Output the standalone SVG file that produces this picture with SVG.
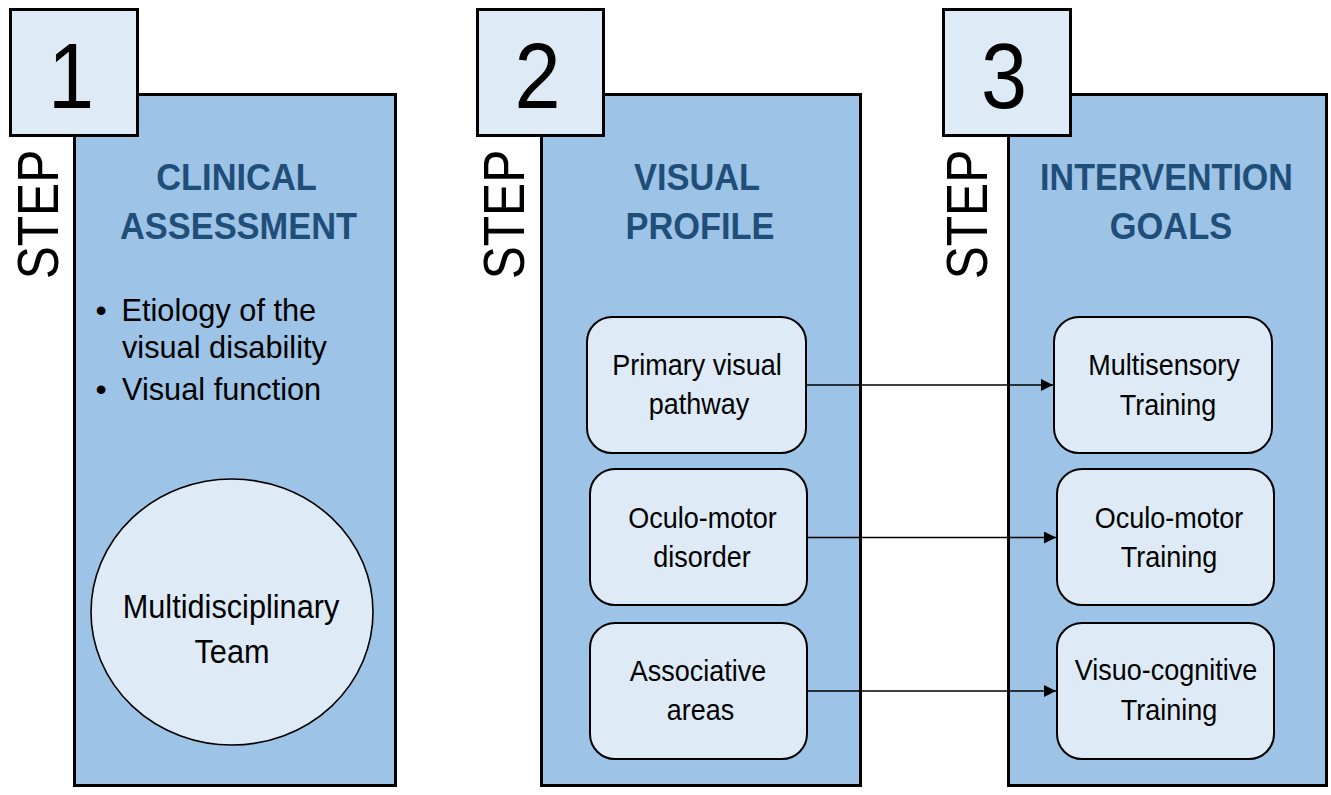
<svg xmlns="http://www.w3.org/2000/svg" width="1331" height="795" viewBox="0 0 1331 795">
<defs>
<style>
.panel{fill:#9DC3E6;stroke:#000;stroke-width:3}
.sq{fill:#DEEBF7;stroke:#000;stroke-width:3}
.box{fill:#DEEBF7;stroke:#000;stroke-width:2}
.ell{fill:#DEEBF7;stroke:#000;stroke-width:1.6}
.num{font-family:"Liberation Sans",Arial,sans-serif;font-size:92px;fill:#000;text-anchor:middle}
.step{font-family:"Liberation Sans",Arial,sans-serif;font-size:57px;fill:#000;text-anchor:middle}
.title{font-family:"Liberation Sans",Arial,sans-serif;font-size:37px;font-weight:bold;fill:#1F4E79;text-anchor:middle}
.lbl{font-family:"Liberation Sans",Arial,sans-serif;font-size:30px;fill:#000;text-anchor:middle}
.big{font-family:"Liberation Sans",Arial,sans-serif;font-size:33px;fill:#000;text-anchor:middle}
.bul{font-family:"Liberation Sans",Arial,sans-serif;font-size:32px;fill:#000}
.conn{stroke:#000;stroke-width:1.5;fill:none;marker-end:url(#ah)}
</style>
<marker id="ah" markerUnits="userSpaceOnUse" markerWidth="13" markerHeight="12" refX="12" refY="6" orient="auto">
<path d="M0,0 L12,6 L0,12 z" fill="#000"/>
</marker>
</defs>
<rect width="1331" height="795" fill="#fff"/>

<g id="step1">
<rect class="panel" x="74.5" y="94.5" width="321" height="691"/>
<rect class="sq" x="10.5" y="9.5" width="127" height="126"/>
<text class="num" transform="translate(71,108) scale(0.9,1)" x="0" y="0">1</text>
<text class="step" transform="translate(58,214.5) rotate(-90) scale(0.87,1)" x="0" y="0">STEP</text>
<text class="title" transform="translate(236.5,190) scale(0.93,1)" x="0" y="0">CLINICAL</text>
<text class="title" transform="translate(238.5,239) scale(0.93,1)" x="0" y="0">ASSESSMENT</text>
<text class="bul" transform="translate(101,321)" x="0" y="0" text-anchor="middle">•</text>
<text class="bul" transform="translate(121.5,321) scale(0.96,1)" x="0" y="0">Etiology of the</text>
<text class="bul" transform="translate(122,358) scale(0.96,1)" x="0" y="0">visual disability</text>
<text class="bul" transform="translate(101,400)" x="0" y="0" text-anchor="middle">•</text>
<text class="bul" transform="translate(122,400) scale(0.96,1)" x="0" y="0">Visual function</text>
</g>

<g id="team">
<ellipse class="ell" cx="232" cy="612" rx="141" ry="133"/>
<text class="big" transform="translate(231,618) scale(0.93,1)" x="0" y="0">Multidisciplinary</text>
<text class="big" transform="translate(232,663) scale(0.93,1)" x="0" y="0">Team</text>
</g>

<g id="step2">
<rect class="panel" x="541.5" y="94.5" width="319" height="691"/>
<rect class="sq" x="477.5" y="9.5" width="126" height="126"/>
<text class="num" transform="translate(537.5,108) scale(0.9,1)" x="0" y="0">2</text>
<text class="step" transform="translate(524,214.5) rotate(-90) scale(0.87,1)" x="0" y="0">STEP</text>
<text class="title" transform="translate(697,190) scale(0.93,1)" x="0" y="0">VISUAL</text>
<text class="title" transform="translate(700,239) scale(0.93,1)" x="0" y="0">PROFILE</text>
</g>

<g id="step3">
<rect class="panel" x="1008.5" y="94.5" width="318" height="691"/>
<rect class="sq" x="943.5" y="9.5" width="127" height="126"/>
<text class="num" transform="translate(1004,108) scale(0.9,1)" x="0" y="0">3</text>
<text class="step" transform="translate(987,214.5) rotate(-90) scale(0.87,1)" x="0" y="0">STEP</text>
<text class="title" transform="translate(1166.5,190) scale(0.92,1)" x="0" y="0">INTERVENTION</text>
<text class="title" transform="translate(1171,239) scale(0.93,1)" x="0" y="0">GOALS</text>
</g>

<g id="primary">
<rect class="box" x="587" y="317" width="219" height="136" rx="25"/>
<text class="lbl" transform="translate(697,375) scale(0.9,1)" x="0" y="0">Primary visual</text>
<text class="lbl" transform="translate(699,414) scale(0.9,1)" x="0" y="0">pathway</text>
</g>
<g id="oculo">
<rect class="box" x="590" y="469" width="217" height="136" rx="25"/>
<text class="lbl" transform="translate(702.5,528) scale(0.9,1)" x="0" y="0">Oculo-motor</text>
<text class="lbl" transform="translate(702,567) scale(0.9,1)" x="0" y="0">disorder</text>
</g>
<g id="assoc">
<rect class="box" x="590" y="623" width="217" height="136" rx="25"/>
<text class="lbl" transform="translate(698,681) scale(0.9,1)" x="0" y="0">Associative</text>
<text class="lbl" transform="translate(700.5,720) scale(0.9,1)" x="0" y="0">areas</text>
</g>

<g id="multisensory">
<rect class="box" x="1054" y="317" width="218" height="136" rx="25"/>
<text class="lbl" transform="translate(1164,375) scale(0.9,1)" x="0" y="0">Multisensory</text>
<text class="lbl" transform="translate(1168,415) scale(0.9,1)" x="0" y="0">Training</text>
</g>
<g id="oculotraining">
<rect class="box" x="1057" y="469" width="217" height="136" rx="25"/>
<text class="lbl" transform="translate(1169,528) scale(0.9,1)" x="0" y="0">Oculo-motor</text>
<text class="lbl" transform="translate(1169,567) scale(0.9,1)" x="0" y="0">Training</text>
</g>
<g id="visuo">
<rect class="box" x="1057" y="623" width="217" height="136" rx="25"/>
<text class="lbl" transform="translate(1166,680) scale(0.9,1)" x="0" y="0">Visuo-cognitive</text>
<text class="lbl" transform="translate(1169,720) scale(0.9,1)" x="0" y="0">Training</text>
</g>

<g id="connectors">
<line class="conn" x1="807" y1="385" x2="1053" y2="385"/>
<line class="conn" x1="808" y1="537.5" x2="1056" y2="537.5"/>
<line class="conn" x1="808" y1="691" x2="1056" y2="691"/>
</g>
</svg>
